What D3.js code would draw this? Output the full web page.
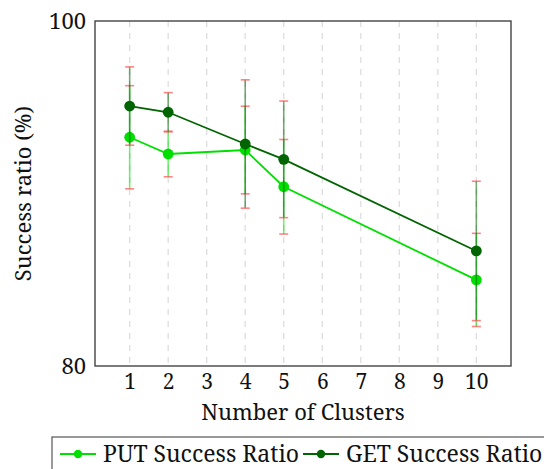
<!DOCTYPE html>
<html>
<head>
<meta charset="utf-8">
<script src="https://cdn.jsdelivr.net/npm/d3@7"></script>
<style>
  html, body { margin: 0; padding: 0; background: #fff; }
  svg { display: block; }
</style>
</head>
<body>
<svg id="chart" width="544" height="469"></svg>
<script>
const xTicks = [1, 2, 3, 4, 5, 6, 7, 8, 9, 10];
const yTicks = [80, 100];
const clusters = [1, 2, 4, 5, 10];
const putValues = [93.26, 92.29, 92.52, 90.39, 84.99];
const putErrors = [2.99, 1.32, 2.54, 2.74, 2.70];
const getValues = [95.07, 94.71, 92.87, 91.98, 86.67];
const getErrors = [2.27, 1.14, 3.72, 3.38, 4.04];
const seriesNames = ["PUT Success Ratio", "GET Success Ratio"];
const seriesColors = ["#00e000", "#006400"];

const FONT = '"Noto Serif", "Liberation Serif", serif';
const svg = d3.select("#chart");
const mLeft = 95, mRight = 511, mTop = 21, mBottom = 366;

const x = d3.scaleLinear().domain([0.1, 10.9]).range([mLeft, mRight]);
const y = d3.scaleLinear().domain([80, 100]).range([mBottom, mTop]);

// grid
svg.append("g").selectAll("line").data(xTicks).join("line")
  .attr("x1", d => x(d)).attr("x2", d => x(d))
  .attr("y1", mTop).attr("y2", mBottom)
  .attr("stroke", "#dedede").attr("stroke-width", 1.3)
  .attr("stroke-dasharray", "6,6");

// axes
const xAxis = svg.append("g").attr("transform", `translate(0,${mBottom})`)
  .call(d3.axisBottom(x).tickValues(xTicks).tickSize(0).tickPadding(8).tickFormat(d3.format("d")));
xAxis.select(".domain").remove();
xAxis.selectAll("text").attr("font-size", 21).attr("fill", "#111");

const yAxis = svg.append("g").attr("transform", `translate(${mLeft},0)`)
  .call(d3.axisLeft(y).tickValues(yTicks).tickSize(0).tickPadding(9).tickFormat(d3.format("d")));
yAxis.select(".domain").remove();
yAxis.selectAll("text").attr("font-size", 22).attr("fill", "#111");

// frame
svg.append("rect").attr("x", mLeft).attr("y", mTop)
  .attr("width", mRight - mLeft).attr("height", mBottom - mTop)
  .attr("fill", "none").attr("stroke", "#444").attr("stroke-width", 1.4);

// series
const series = [
  { name: seriesNames[0], color: seriesColors[0], vals: putValues, errs: putErrors },
  { name: seriesNames[1], color: seriesColors[1], vals: getValues, errs: getErrors }
];

series.forEach(s => {
  const pts = clusters.map((c, i) => ({ c, v: s.vals[i], e: s.errs[i] }));
  const g = svg.append("g");
  g.selectAll("line.err").data(pts).join("line").attr("class", "err")
    .attr("x1", d => x(d.c)).attr("x2", d => x(d.c))
    .attr("y1", d => y(d.v - d.e)).attr("y2", d => y(d.v + d.e))
    .attr("stroke", s.color).attr("stroke-opacity", 0.55).attr("stroke-width", 1.6);
  ["lo", "hi"].forEach(k => {
    g.selectAll("line.cap" + k).data(pts).join("line").attr("class", "cap" + k)
      .attr("x1", d => x(d.c) - 4.5).attr("x2", d => x(d.c) + 4.5)
      .attr("y1", d => y(k === "lo" ? d.v - d.e : d.v + d.e))
      .attr("y2", d => y(k === "lo" ? d.v - d.e : d.v + d.e))
      .attr("stroke", "#ff5050").attr("stroke-opacity", 0.7).attr("stroke-width", 1.6);
  });
  g.append("path").datum(pts)
    .attr("d", d3.line().x(d => x(d.c)).y(d => y(d.v)))
    .attr("fill", "none").attr("stroke", s.color).attr("stroke-width", 1.8);
  g.selectAll("circle").data(pts).join("circle")
    .attr("cx", d => x(d.c)).attr("cy", d => y(d.v)).attr("r", 5.4)
    .attr("fill", s.color);
});

// axis titles
svg.append("text").attr("x", (mLeft + mRight) / 2).attr("y", 420)
  .attr("text-anchor", "middle").attr("font-size", 22).attr("fill", "#111").text("Number of Clusters");
svg.append("text").attr("transform", `translate(31,${(mTop + mBottom) / 2}) rotate(-90)`)
  .attr("text-anchor", "middle").attr("font-size", 22).attr("fill", "#111").text("Success ratio (%)");

// legend
svg.append("rect").attr("x", 52).attr("y", 437).attr("width", 520).attr("height", 60)
  .attr("fill", "#fff").attr("stroke", "#555").attr("stroke-width", 1.2);
const legX = [60, 303];
series.forEach((s, i) => {
  const lg = svg.append("g").attr("transform", `translate(${legX[i]},454)`);
  lg.append("line").attr("x1", 0).attr("x2", 36).attr("y1", 0).attr("y2", 0)
    .attr("stroke", s.color).attr("stroke-width", 1.8);
  lg.append("circle").attr("cx", 18).attr("cy", 0).attr("r", 4.2).attr("fill", s.color);
  lg.append("text").attr("x", 43).attr("y", 7.5).attr("font-size", 23).attr("fill", "#111").text(s.name);
});

svg.selectAll("text").style("font-family", FONT);
</script>
</body>
</html>
